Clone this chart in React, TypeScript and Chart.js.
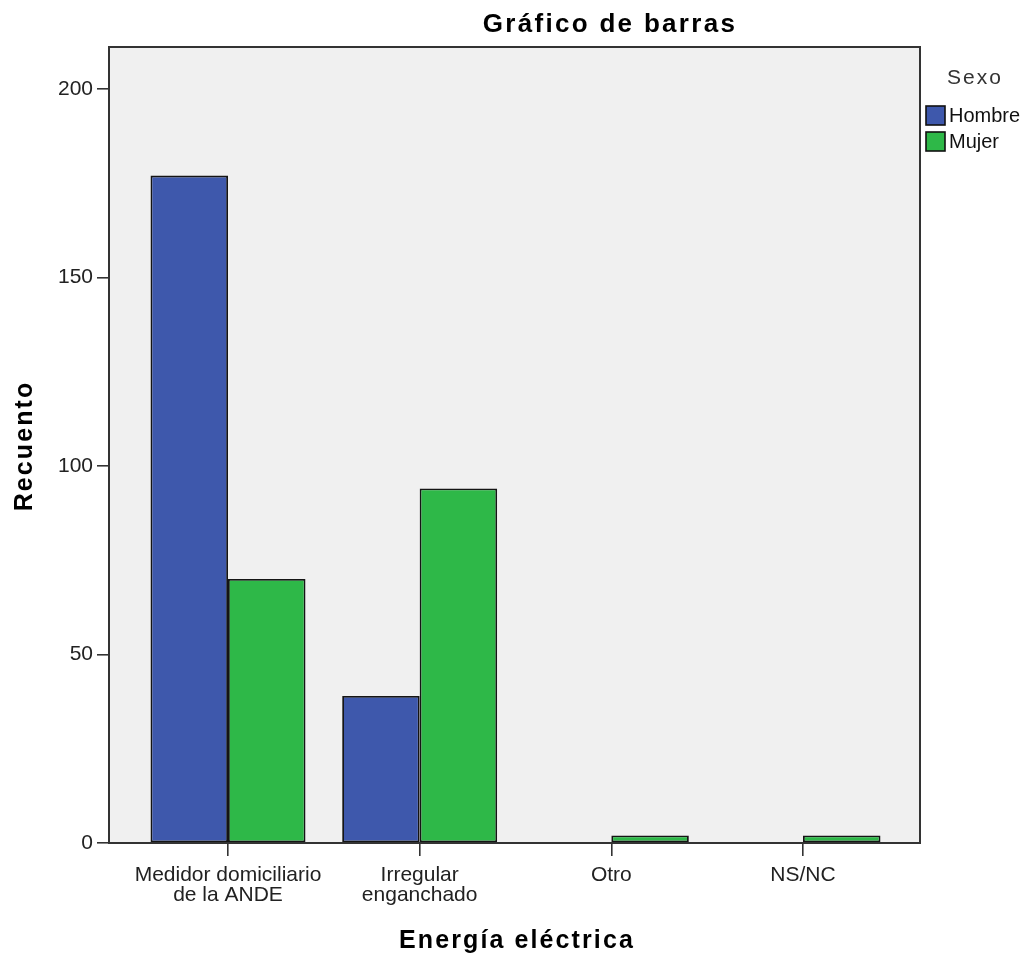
import React, { useEffect, useRef } from 'react';
import { Chart, registerables } from 'chart.js';

Chart.register(...registerables);

const chartTitle = 'Gráfico de barras';
const xTitle = 'Energía eléctrica';
const yTitle = 'Recuento';
const legendTitle = 'Sexo';
const categories: string[][] = [
  ['Medidor domiciliario', 'de la ANDE'],
  ['Irregular', 'enganchado'],
  ['Otro'],
  ['NS/NC'],
];
const seriesNames = ['Hombre', 'Mujer'];
const hombre = [177, 39, 0, 0];
const mujer = [70, 94, 2, 2];
const yTicks = [0, 50, 100, 150, 200];
const seriesColors = ['#3e58ac', '#2eb848'];

const FONT = "'Liberation Sans', Arial, sans-serif";

const framePlugin = {
  id: 'spssFrame',
  beforeDatasetsDraw(chart: any) {
    const { ctx, chartArea: a } = chart;
    ctx.save();
    ctx.fillStyle = '#f0f0f0';
    ctx.fillRect(a.left, a.top, a.right - a.left, a.bottom - a.top);
    ctx.restore();
  },
  afterDatasetsDraw(chart: any) {
    const { ctx, chartArea: a } = chart;
    ctx.save();
    ctx.strokeStyle = '#333';
    ctx.lineWidth = 2;
    ctx.strokeRect(a.left, a.top, a.right - a.left, a.bottom - a.top);
    ctx.restore();
  },
  afterDraw(chart: any) {
    const { ctx } = chart;
    ctx.save();
    ctx.fillStyle = '#000';
    ctx.textAlign = 'center';
    ctx.textBaseline = 'middle';
    (ctx as any).letterSpacing = '2.3px';
    ctx.font = `bold 26px ${FONT}`;
    ctx.fillText(chartTitle, 610, 25);
    (ctx as any).letterSpacing = '2.1px';
    ctx.font = `bold 25px ${FONT}`;
    ctx.fillText(xTitle, 517, 941);
    ctx.save();
    ctx.translate(25, 446);
    ctx.rotate(-Math.PI / 2);
    ctx.fillText(yTitle, 0, 0);
    ctx.restore();
    (ctx as any).letterSpacing = '2px';
    ctx.fillStyle = '#333';
    ctx.font = `21px ${FONT}`;
    ctx.textAlign = 'left';
    ctx.fillText(legendTitle, 947, 78);
    (ctx as any).letterSpacing = '0px';
    ctx.font = `20px ${FONT}`;
    chart.data.datasets.forEach((ds: any, i: number) => {
      const y = 106 + i * 26;
      ctx.fillStyle = ds.backgroundColor;
      ctx.fillRect(926, y, 19, 19);
      ctx.strokeStyle = '#111';
      ctx.lineWidth = 1.6;
      ctx.strokeRect(926, y, 19, 19);
      ctx.fillStyle = '#111';
      ctx.fillText(ds.label, 949, y + 10);
    });
    ctx.restore();
  },
};

export default function App() {
  const ref = useRef<HTMLCanvasElement | null>(null);
  useEffect(() => {
    if (!ref.current) return;
    const series = [hombre, mujer];
    const chart = new Chart(ref.current, {
      type: 'bar',
      data: {
        datasets: series.map((vals, si) => ({
          label: seriesNames[si],
          data: vals.map((v, i) => ({ x: i, y: v })),
          backgroundColor: seriesColors[si],
          borderColor: '#141414',
          borderWidth: 1.8,
          borderSkipped: false,
          categoryPercentage: 0.8086,
          barPercentage: 1.0,
        })),
      },
      options: {
        animation: false,
        responsive: false,
        devicePixelRatio: 1,
        layout: { padding: { left: 0, right: 108, top: 47, bottom: 0 } },
        plugins: {
          legend: { display: false },
          title: { display: false },
          tooltip: { enabled: false },
        },
        scales: {
          x: {
            type: 'linear',
            offset: false,
            min: -0.6209,
            max: 3.6104,
            afterBuildTicks: (s: any) => {
              s.ticks = categories.map((_, i) => ({ value: i }));
            },
            afterFit: (s: any) => {
              s.height = 114;
            },
            border: { display: false },
            grid: {
              display: true,
              offset: false,
              drawOnChartArea: false,
              drawTicks: true,
              tickLength: 13,
              color: '#333',
              lineWidth: 1.6,
            },
            ticks: {
              autoSkip: false,
              maxRotation: 0,
              padding: 9,
              color: '#222',
              font: { family: FONT, size: 21, lineHeight: 0.96 },
              callback: (v: any) => categories[Math.round(Number(v))] ?? '',
            },
          },
          y: {
            type: 'linear',
            min: 0,
            max: 211.1,
            afterBuildTicks: (s: any) => {
              s.ticks = yTicks.map((v) => ({ value: v }));
            },
            afterFit: (s: any) => {
              s.width = 109;
            },
            border: { display: false },
            grid: {
              display: true,
              drawOnChartArea: false,
              drawTicks: true,
              tickLength: 12,
              color: '#333',
              lineWidth: 1.6,
            },
            ticks: {
              padding: 4,
              color: '#222',
              font: { family: FONT, size: 21 },
            },
          },
        },
      },
      plugins: [framePlugin],
    } as any);
    return () => chart.destroy();
  }, []);
  return (
    <div style={{ position: 'absolute', left: 0, top: 0, width: 1028, height: 957, background: '#fff' }}>
      <canvas ref={ref} width={1028} height={957} style={{ display: 'block', width: 1028, height: 957 }} />
    </div>
  );
}
